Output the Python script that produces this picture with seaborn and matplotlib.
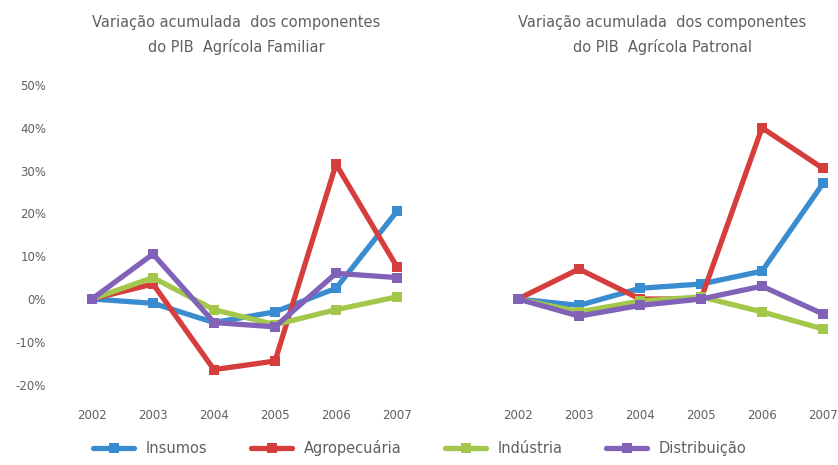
import pandas as pd
import matplotlib.pyplot as plt
import seaborn as sns

# Years and series (cumulative variation, %)
anos = [2002, 2003, 2004, 2005, 2006, 2007]
componentes = ['Insumos', 'Agropecuária', 'Indústria', 'Distribuição']
cores = ['#3a8cd0', '#d63d3d', '#a3c74a', '#8162b8']

familiar_insumos = [0, -1.0, -5.5, -3.0, 2.5, 20.5]
familiar_agro = [0, 3.5, -16.5, -14.5, 31.5, 7.5]
familiar_industria = [0, 5.0, -2.5, -6.0, -2.5, 0.5]
familiar_distribuicao = [0, 10.5, -5.5, -6.5, 6.0, 5.0]

patronal_insumos = [0, -1.5, 2.5, 3.5, 6.5, 27.0]
patronal_agro = [0, 7.0, 0.0, 0.0, 40.0, 30.5]
patronal_industria = [0, -3.0, -0.5, 0.5, -3.0, -7.0]
patronal_distribuicao = [0, -4.0, -1.5, 0.0, 3.0, -3.5]

titulos = ['Variação acumulada  dos componentes\ndo PIB  Agrícola Familiar',
           'Variação acumulada  dos componentes\ndo PIB  Agrícola Patronal']


def long_df(series):
    rows = []
    for nome, vals in zip(componentes, series):
        for a, v in zip(anos, vals):
            rows.append({'Ano': a, 'Valor': v, 'Componente': nome})
    return pd.DataFrame(rows)


df_fam = long_df([familiar_insumos, familiar_agro, familiar_industria, familiar_distribuicao])
df_pat = long_df([patronal_insumos, patronal_agro, patronal_industria, patronal_distribuicao])

sns.set_style('white')
plt.rcParams['font.family'] = ['DejaVu Sans']

W, H = 838, 465
fig = plt.figure(figsize=(W / 100, H / 100), dpi=100)
palette = dict(zip(componentes, cores))
cinza = '#606060'

# axes in pixel coordinates: (left, bottom, width, height)
ax1 = fig.add_axes([61.5 / W, 59 / H, 366 / W, 321 / H])
ax2 = fig.add_axes([487.5 / W, 59 / H, 366 / W, 321 / H])

for ax, df in [(ax1, df_fam), (ax2, df_pat)]:
    sns.lineplot(data=df, x='Ano', y='Valor', hue='Componente', palette=palette,
                 marker='s', markersize=7.5, markeredgewidth=0, linewidth=3.8,
                 ax=ax, legend=False)
    ax.set_xlim(2001.5, 2007.5)
    ax.set_ylim(-25, 50)
    ax.set_xticks(anos)
    ax.set_xticklabels([str(a) for a in anos], fontsize=8.5, color=cinza)
    ax.set_xlabel('')
    ax.set_ylabel('')
    for s in ax.spines.values():
        s.set_visible(False)
    ax.tick_params(axis='both', length=0)
    ax.tick_params(axis='x', pad=2)

ax1.set_yticks([-20, -10, 0, 10, 20, 30, 40, 50])
ax1.set_yticklabels(['-20%', '-10%', '0%', '10%', '20%', '30%', '40%', '50%'],
                    fontsize=8.5, color=cinza)
ax1.tick_params(axis='y', pad=11)
ax2.set_yticks([])

fig.text(236 / W, 1 - 35 / H, titulos[0], ha='center', va='center',
         fontsize=10.5, color=cinza, linespacing=1.65)
fig.text(662 / W, 1 - 35 / H, titulos[1], ha='center', va='center',
         fontsize=10.5, color=cinza, linespacing=1.65)

handles = [plt.Line2D([], [], color=c, linewidth=3.8, marker='s', markersize=7.5,
                      markeredgewidth=0) for c in cores]
fig.legend(handles, componentes, loc='center', bbox_to_anchor=(420 / W, 1 - 448 / H),
           ncol=4, frameon=False, fontsize=10.5, handlelength=2.8, columnspacing=3.0,
           labelcolor=cinza)

fig.savefig('out.png', dpi=100)
